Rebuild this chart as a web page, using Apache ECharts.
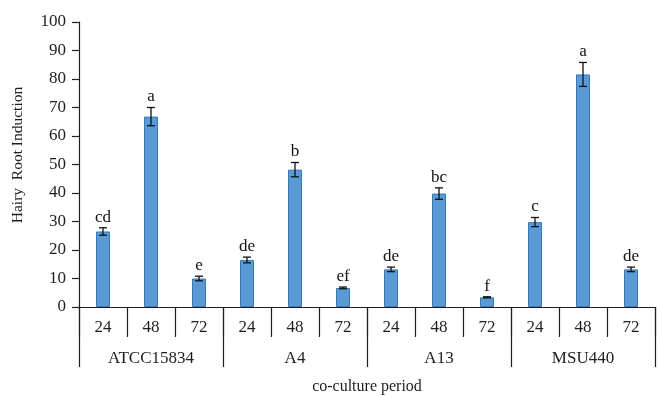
<!DOCTYPE html>
<html>
<head>
<meta charset="utf-8">
<script src="https://cdn.jsdelivr.net/npm/echarts@6/dist/echarts.min.js"></script>
<style>
  html, body { margin: 0; padding: 0; background: #fff; }
  #chart { width: 659px; height: 396px; }
</style>
</head>
<body>
<div id="chart"></div>
<script>
// Co-culture periods (h) repeated for each strain
const periods = ['24', '48', '72', '24', '48', '72', '24', '48', '72', '24', '48', '72'];
const strains = ['ATCC15834', 'A4', 'A13', 'MSU440'];
// Mean hairy root induction (%) per strain / period
const induction = [26.5, 66.8, 10.0, 16.5, 48.2, 6.7, 13.2, 39.8, 3.4, 29.8, 81.6, 13.2];
// Standard error of each mean
const stdErr = [1.3, 3.2, 0.8, 1.0, 2.5, 0.3, 0.8, 2.0, 0.2, 1.6, 4.2, 0.8];
// Significance groups from the mean comparison
const letters = ['cd', 'a', 'e', 'de', 'b', 'ef', 'de', 'bc', 'f', 'c', 'a', 'de'];
const yTicks = { min: 0, max: 100, interval: 10 };

const serif = '"Liberation Serif", "DejaVu Serif", serif';
const ink = '#1e1e1e';

const chart = echarts.init(document.getElementById('chart'), null, { renderer: 'canvas' });

const errData = induction.map((v, i) => [i, v, stdErr[i], letters[i]]);

chart.setOption({
  animation: false,
  backgroundColor: '#fff',
  grid: { left: 79, right: 4, top: 22, bottom: 89, containLabel: false, outerBoundsMode: 'none' },
  graphic: [
    {
      // vertical axis title, drawn slightly above the plot's centre
      type: 'text',
      x: 18, y: 155,
      rotation: Math.PI / 2,
      style: {
        text: 'Hairy  Root Induction',
        font: '15.5px ' + serif,
        fill: ink,
        textAlign: 'center',
        textVerticalAlign: 'middle'
      }
    }
  ],
  xAxis: [
    {
      type: 'category',
      data: periods,
      axisLine: { lineStyle: { color: ink, width: 1.2 } },
      axisTick: { show: true, length: 30, interval: 0, lineStyle: { color: ink, width: 1.2 } },
      axisLabel: { interval: 0, margin: 12, fontFamily: serif, fontSize: 17, color: ink }
    },
    {
      type: 'category',
      data: strains,
      position: 'bottom',
      axisLine: { show: false },
      axisTick: { show: true, length: 60, interval: 0, lineStyle: { color: ink, width: 1.2 } },
      axisLabel: { interval: 0, margin: 43, fontFamily: serif, fontSize: 17, color: ink },
      name: 'co-culture period',
      nameLocation: 'middle',
      nameGap: 72,
      nameTextStyle: { fontFamily: serif, fontSize: 16, color: ink }
    }
  ],
  yAxis: {
    type: 'value',
    min: yTicks.min,
    max: yTicks.max,
    interval: yTicks.interval,
    splitLine: { show: false },
    axisLine: { show: true, lineStyle: { color: ink, width: 1.2 } },
    axisTick: { show: true, length: 7, lineStyle: { color: ink, width: 1.2 } },
    axisLabel: { fontFamily: serif, fontSize: 17, color: ink, margin: 13 }
  },
  series: [
    {
      type: 'bar',
      xAxisIndex: 0,
      data: induction,
      barWidth: 14,
      itemStyle: { color: '#5b9bd5', borderColor: '#3a78b8', borderWidth: 1 }
    },
    {
      type: 'custom',
      xAxisIndex: 0,
      data: errData,
      z: 10,
      renderItem: function (params, api) {
        const x = api.value(0);
        const v = api.value(1);
        const e = api.value(2);
        const top = api.coord([x, v + e]);
        const bot = api.coord([x, v - e]);
        const half = 4;
        const style = { stroke: '#111', lineWidth: 1.3 };
        return {
          type: 'group',
          children: [
            { type: 'line', shape: { x1: top[0], y1: top[1], x2: bot[0], y2: bot[1] }, style: style },
            { type: 'line', shape: { x1: top[0] - half, y1: top[1], x2: top[0] + half, y2: top[1] }, style: style },
            { type: 'line', shape: { x1: bot[0] - half, y1: bot[1], x2: bot[0] + half, y2: bot[1] }, style: style },
            {
              type: 'text',
              style: {
                x: top[0], y: top[1] - 2,
                text: api.value(3),
                textAlign: 'center', textVerticalAlign: 'bottom',
                font: '17px ' + serif,
                fill: '#111'
              }
            }
          ]
        };
      }
    }
  ]
});
</script>
</body>
</html>
